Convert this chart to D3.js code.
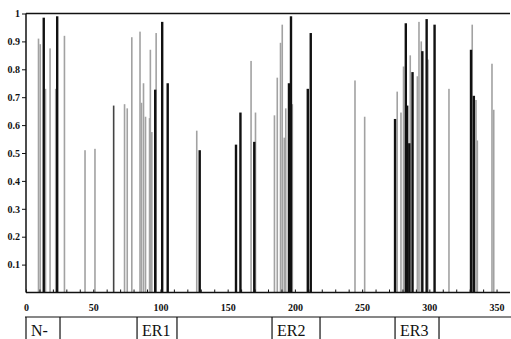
<!DOCTYPE html>
<html>
<head>
<meta charset="utf-8">
<script src="https://cdn.jsdelivr.net/npm/d3@7"></script>
<style>
  html, body { margin: 0; padding: 0; background: #fff; }
  svg { display: block; }
</style>
</head>
<body>
<svg id="chart"></svg>
<script>
// light bars (position, height)
const grayPos = [9.3, 10.6, 14.5, 17.9, 22.1, 28.6, 43.9, 51.3, 73.3, 75.3, 78.7, 84.8, 85.9, 87.4, 88.9, 91.9, 92.5, 93.6, 96.8,
  127.0, 167.4, 170.7, 184.8, 186.9, 189.3, 190.6, 192.1, 193.2, 198.1, 244.7, 251.9,
  276.1, 278.9, 280.8, 285.8, 291.1, 292.3, 294.0, 299.0, 314.6, 331.9, 334.7, 335.7, 346.6, 347.9];
const grayVal = [0.91, 0.89, 0.73, 0.875, 0.73, 0.92, 0.51, 0.515, 0.675, 0.66, 0.915, 0.935, 0.68, 0.75, 0.63, 0.625, 0.87, 0.575, 0.93,
  0.58, 0.83, 0.645, 0.635, 0.77, 0.895, 0.96, 0.555, 0.66, 0.675, 0.76, 0.63,
  0.72, 0.645, 0.81, 0.85, 0.775, 0.97, 0.9, 0.835, 0.73, 0.96, 0.69, 0.545, 0.82, 0.655];

// mid-dark bars
const darkPos = [65.2];
const darkVal = [0.67];

// dark bars
const blackPos = [13.2, 23.2, 96.1, 101.3, 105.4, 129.2, 156.2, 159.5, 169.8, 195.6, 197.1, 209.6, 211.8,
  274.5, 282.5, 283.5, 285.1, 287.5, 294.8, 298.0, 303.9, 331.0, 333.1];
const blackVal = [0.985, 0.99, 0.727, 0.97, 0.75, 0.51, 0.53, 0.645, 0.54, 0.75, 0.99, 0.73, 0.93,
  0.622, 0.965, 0.67, 0.535, 0.79, 0.865, 0.98, 0.96, 0.87, 0.705];

const yTicks = [0.1, 0.2, 0.3, 0.4, 0.5, 0.6, 0.7, 0.8, 0.9, 1];
const yTickLabels = ["0.1", "0.2", "0.3", "0.4", "0.5", "0.6", "0.7", "0.8", "0.9", "1"];
const xTicks = [0, 50, 100, 150, 200, 250, 300, 350];

// region strip under the axis
const regionStart = [0, 25.3, 82.6, 112.3, 183, 218.7, 274.5, 307.2];
const regionLabel = ["N-", "", "ER1", "", "ER2", "", "ER3", ""];

const W = 511, H = 339;
const serif = "'Liberation Serif', 'Times New Roman', serif";
const svg = d3.select("#chart").attr("width", W).attr("height", H);

const x = d3.scaleLinear().domain([0, 360]).range([26, 510]);
const y = d3.scaleLinear().domain([0, 1]).range([292.5, 13.5]);

function drawBars(pos, val, w, color) {
  svg.append("g").selectAll("rect").data(pos).join("rect")
    .attr("x", d => x(d) - w / 2)
    .attr("width", w)
    .attr("y", (d, i) => y(val[i]))
    .attr("height", (d, i) => y(0) - y(val[i]))
    .attr("fill", color);
}
drawBars(grayPos, grayVal, 1.6, "#a2a2a2");
drawBars(darkPos, darkVal, 1.6, "#444");
drawBars(blackPos, blackVal, 2.4, "#111");

// frame: top line
svg.append("line")
  .attr("x1", x(0)).attr("x2", x(360))
  .attr("y1", y(1)).attr("y2", y(1))
  .attr("stroke", "#111").attr("stroke-width", 1.5);

// y axis
const yAxis = svg.append("g")
  .attr("transform", `translate(${x(0)},0)`)
  .call(d3.axisLeft(y).tickValues(yTicks).tickSize(4).tickPadding(2)
    .tickFormat((d, i) => yTickLabels[i]));
yAxis.attr("font-family", serif).attr("font-size", 10).attr("font-weight", "bold");
yAxis.select(".domain").attr("d", `M0,${y(0)}V${y(1)}`).attr("stroke", "#111").attr("stroke-width", 1.5);
yAxis.selectAll(".tick line").attr("stroke", "#111");
yAxis.selectAll(".tick text").attr("fill", "#111");

// x axis, minor inward ticks
const xMinor = svg.append("g")
  .attr("transform", `translate(0,${y(0)})`)
  .call(d3.axisBottom(x).tickValues(d3.range(0, 360, 10)).tickSize(-3).tickFormat(""));
xMinor.select(".domain").attr("d", `M${x(0)},0H${x(360)}`).attr("stroke", "#111").attr("stroke-width", 1.5);
xMinor.selectAll(".tick line").attr("stroke", "#111");

// x labels
const xLab = svg.append("g")
  .attr("transform", `translate(0,${y(0)})`)
  .call(d3.axisBottom(x).tickValues(xTicks).tickSize(0).tickPadding(11));
xLab.attr("font-family", serif).attr("font-size", 10).attr("font-weight", "bold");
xLab.select(".domain").remove();
xLab.selectAll(".tick text").attr("fill", "#111");

// region strip
const stripTop = 317;
svg.append("line")
  .attr("x1", x(0) - 1).attr("x2", W)
  .attr("y1", stripTop).attr("y2", stripTop)
  .attr("stroke", "#111").attr("stroke-width", 1.2);
svg.selectAll(".sep").data(regionStart).join("line")
  .attr("x1", d => x(d)).attr("x2", d => x(d))
  .attr("y1", stripTop).attr("y2", H)
  .attr("stroke", "#111").attr("stroke-width", 1.2);
svg.selectAll(".rl").data(regionStart).join("text")
  .attr("x", d => x(d) + 5)
  .attr("y", 336)
  .attr("font-family", serif)
  .attr("font-size", "16px")
  .attr("fill", "#111")
  .text((d, i) => regionLabel[i]);
</script>
</body>
</html>
